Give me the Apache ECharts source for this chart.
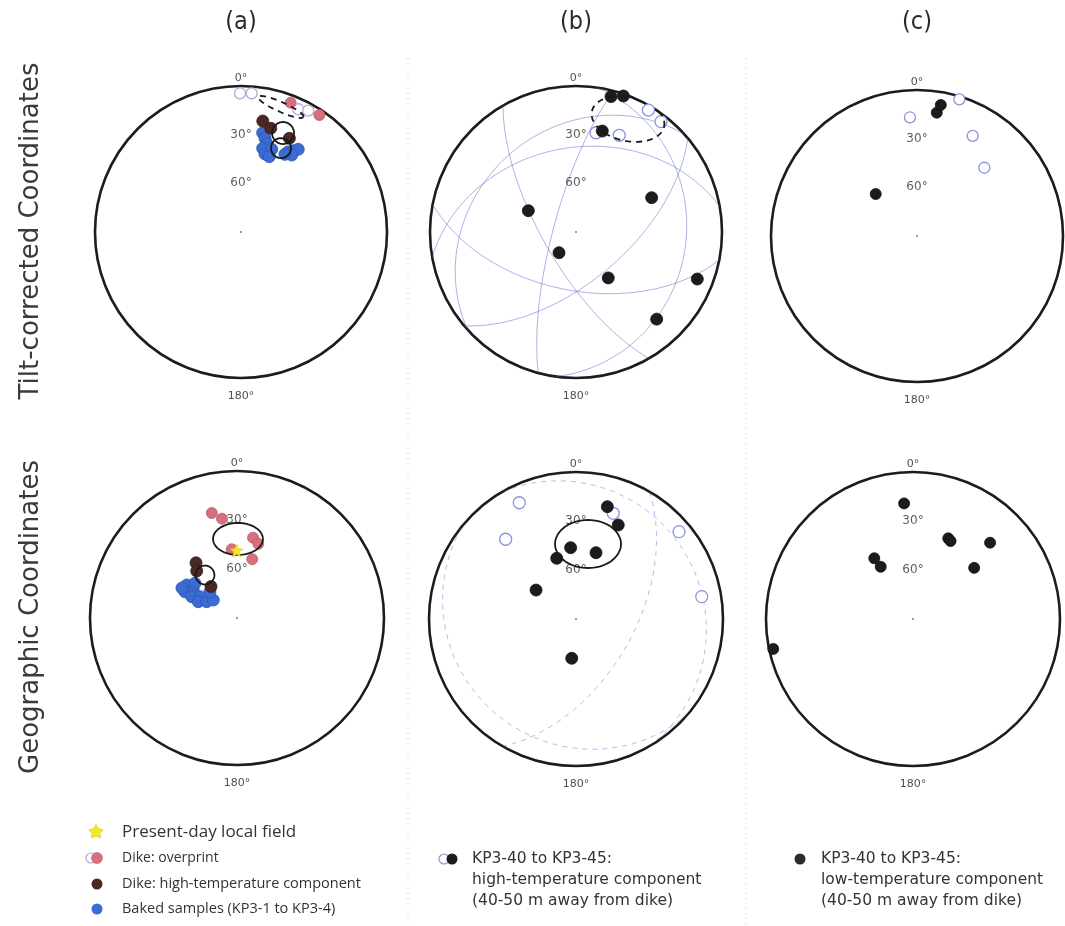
<!DOCTYPE html>
<html>
<head>
<meta charset="utf-8">
<script src="https://cdn.jsdelivr.net/npm/echarts@6/dist/echarts.min.js"></script>
<style>
  html, body { margin: 0; padding: 0; background: #ffffff; }
  #chart { width: 1065px; height: 926px; }
</style>
</head>
<body>
<div id="chart"></div>
<script>
// Paleomagnetic directions on equal-angle nets.
// Every direction is [declination, inclination] in degrees; a negative
// inclination points into the upper hemisphere and is drawn as an open symbol.

const columnTitles = ['(a)', '(b)', '(c)'];
const rowTitles = ['Tilt-corrected Coordinates', 'Geographic Coordinates'];
const inclinationTicks = [30, 60];
const declinationTicks = [0, 180];

// ---- (a) dike and baked contact, tilt-corrected ----
const aTiltOverprint = [[21.0, 4.6], [33.8, 3.2], [359.6, -4.5], [4.4, -4.3], [25.0, -6.5], [29.0, -4.5]];
const aTiltDikeHigh = [[11.1, 20.3], [16.0, 23.5], [27.3, 25.0]];
const aTiltBaked = [[12.3, 27.4], [14.4, 30.4], [16.2, 33.1], [14.5, 36.7], [17.1, 39.7], [20.4, 35.6],
  [20.6, 40.4], [30.5, 32.6], [32.8, 30.4], [34.7, 28.0], [33.4, 33.2], [29.5, 35.0]];
// confidence ellipses: [dec, inc, semi-axis 1, semi-axis 2 (degrees of the net), tilt]
const aTiltMeans = [[23.0, 23.7, 6.8, 6.8, 0], [25.5, 32.7, 6.2, 6.2, 0], [17.7, -9.1, 15.4, 3.0, 24]];

// ---- (a) geographic ----
const aGeoPresentField = [[359.7, 48.7]];
const aGeoOverprint = [[346.5, 23.9], [351.4, 28.5], [11.3, 39.9], [16.0, 42.7], [14.5, 52.8], [355.6, 47.8]];
const aGeoDikeHigh = [[323.4, 47.9], [319.4, 52.1], [320.5, 65.0]];
const aGeoBaked = [[303.3, 53.2], [296.8, 54.3], [302.6, 58.2], [295.2, 59.4], [299.9, 63.9], [292.8, 64.3],
  [298.3, 68.9], [307.2, 71.8], [309.6, 56.6], [298.6, 51.6], [313.9, 67.0]];
const aGeoMeans = [[0.7, 41.6, 15.3, 9.8, 0], [323.3, 57.2, 5.8, 5.8, 0]];

// ---- (b) KP3-40 to KP3-45, high-temperature component ----
const bTiltSites = [[14.5, 3.8], [19.2, 1.2], [14.6, 25.7], [294.1, 57.8], [65.6, 38.8], [219.4, 73.5],
  [144.9, 55.4], [111.2, 9.8], [137.2, 16.8], [11.4, -27.6], [24.1, -24.7], [30.7, -2.6], [37.6, -4.1]];
const bTiltMeans = [[24.7, -13.3, 22.8, 13.6, 12]];
// poles of remagnetization great circles: [dec, inc]
const bTiltCircles = [[105, 14], [11, 36], [170, 52], [278, 68], [138, 63], [60, 20], [320, 30]];

const bGeoSites = [[15.6, 18.6], [24.2, 26.9], [355.7, 46.2], [16.8, 47.6], [342.4, 51.0], [305.9, 59.8],
  [186.2, 65.8], [334.0, -10.8], [318.6, -24.9], [19.4, -21.4], [49.7, -7.3], [79.9, -11.8]];
const bGeoMeans = [[9.1, 43.5, 20.2, 14.7, 0]];
const bGeoCircles = [[240, 78], [40, 76], [300, 35]];

// ---- (c) KP3-40 to KP3-45, low-temperature component ----
const cTiltSites = [[9.1, 13.0], [10.3, 7.9], [315.5, 53.7], [356.6, -16.7], [17.2, -1.8], [29.1, -19.4], [44.6, -30.9]];
const cGeoSites = [[355.6, 19.0], [23.6, 36.1], [25.7, 37.0], [45.3, 23.6], [327.5, 45.9], [328.3, 52.4],
  [50.1, 41.2], [257.9, 2.5]];

// ---------------------------------------------------------------------------
const netCenters = [[241, 232], [576, 232], [917, 236], [237, 618], [576, 619], [913, 619]];
const netRadii = [146, 146, 146, 147, 147, 147];
const DEG = Math.PI / 180;

const STYLE = {
  overprint: { fill: '#d6707f', edge: '#b95a6a', open: '#b9a5dc' },
  dikeHigh: { fill: '#4a2824', edge: '#341b18', open: '#4a2824' },
  baked: { fill: '#3b6bd3', edge: '#2b56b2', open: '#3b6bd3' },
  site: { fill: '#1c1c1c', edge: '#111111', open: '#8b93dc' }
};

function toPolar(d) { return [90 - Math.abs(d[1]), d[0]]; }

function ellipsePoints(e) {
  const [dec, inc, a, b, tilt] = e;
  const rho0 = 90 - Math.abs(inc);
  const x0 = rho0 * Math.sin(dec * DEG), y0 = rho0 * Math.cos(dec * DEG);
  const r = tilt * DEG;
  const e1 = [Math.cos(r), -Math.sin(r)], e2 = [Math.sin(r), Math.cos(r)];
  const pts = [];
  for (let t = 0; t <= 360; t += 5) {
    const u = a * Math.cos(t * DEG), v = b * Math.sin(t * DEG);
    const x = x0 + u * e1[0] + v * e2[0], y = y0 + u * e1[1] + v * e2[1];
    pts.push([Math.hypot(x, y), (Math.atan2(x, y) / DEG + 360) % 360]);
  }
  return pts;
}

function greatCirclePoints(pole) {
  const pd = pole[0] * DEG, pi = pole[1] * DEG;
  const p = [Math.cos(pi) * Math.cos(pd), Math.cos(pi) * Math.sin(pd), Math.sin(pi)];
  const u = [-Math.sin(pd), Math.cos(pd), 0];
  let v = [p[1] * u[2] - p[2] * u[1], p[2] * u[0] - p[0] * u[2], p[0] * u[1] - p[1] * u[0]];
  if (v[2] < 0) v = v.map(c => -c);
  const pts = [];
  for (let t = 0; t <= 180; t += 2) {
    const c = [0, 1, 2].map(k => Math.cos(t * DEG) * u[k] + Math.sin(t * DEG) * v[k]);
    const inc = Math.asin(Math.max(-1, Math.min(1, c[2]))) / DEG;
    const dec = (Math.atan2(c[1], c[0]) / DEG + 360) % 360;
    pts.push([90 - inc, dec]);
  }
  return pts;
}

function starPoints(cx, cy, ro, ri) {
  const pts = [];
  for (let k = 0; k < 10; k++) {
    const a = (-90 + k * 36) * DEG, r = k % 2 ? ri : ro;
    pts.push([cx + r * Math.cos(a), cy + r * Math.sin(a)]);
  }
  return pts;
}

const series = [];

function addDirections(net, dirs, style, size) {
  const lower = dirs.filter(d => d[1] >= 0).map(toPolar);
  const upper = dirs.filter(d => d[1] < 0).map(toPolar);
  if (upper.length) series.push({
    type: 'scatter', coordinateSystem: 'polar', polarIndex: net, z: 4,
    symbol: 'circle', symbolSize: size, data: upper,
    itemStyle: { color: '#ffffff', borderColor: style.open, borderWidth: 1.3, opacity: 1 }
  });
  if (lower.length) series.push({
    type: 'scatter', coordinateSystem: 'polar', polarIndex: net, z: 5,
    symbol: 'circle', symbolSize: size, data: lower,
    itemStyle: { color: style.fill, borderColor: style.edge, borderWidth: 0.8, opacity: 1 }
  });
}

function addMeans(net, means) {
  means.forEach(m => series.push({
    type: 'line', coordinateSystem: 'polar', polarIndex: net, z: 6,
    showSymbol: false, symbol: 'none', silent: true, data: ellipsePoints(m),
    lineStyle: { color: '#1a1a1a', width: 1.8, type: m[1] < 0 ? [6, 5] : 'solid' }
  }));
}

function addCircles(net, poles, dash, alpha) {
  poles.forEach(p => series.push({
    type: 'line', coordinateSystem: 'polar', polarIndex: net, z: 2,
    showSymbol: false, symbol: 'none', silent: true, data: greatCirclePoints(p),
    lineStyle: { color: 'rgba(92,102,206,' + alpha + ')', width: 1, type: dash }
  }));
}

const starPath = 'path://M50,2 L63,36 L98,38 L70,60 L80,96 L50,76 L20,96 L30,60 L2,38 L37,36 Z';

// net furniture: centre mark and the declination / inclination labels
netCenters.forEach((c, i) => {
  series.push({
    type: 'scatter', coordinateSystem: 'polar', polarIndex: i, z: 3, silent: true,
    symbol: 'circle', symbolSize: 2, data: [[0, 0]], itemStyle: { color: '#6a74d0', opacity: 1 }
  });
  series.push({
    type: 'scatter', coordinateSystem: 'polar', polarIndex: i, z: 3, silent: true,
    symbolSize: 0,
    data: inclinationTicks.map(t => ({ value: [90 - t, 0], name: t + '°' })),
    label: { show: true, position: 'inside', formatter: p => p.name, color: '#333333',
      fontSize: 12, fontFamily: 'DejaVu Sans' }
  });
  series.push({
    type: 'scatter', coordinateSystem: 'polar', polarIndex: i, z: 3, silent: true,
    symbolSize: 0,
    data: declinationTicks.map(t => ({ value: [90, t], name: t + '°',
      label: { position: t === 0 ? 'top' : 'bottom', distance: t === 0 ? 2 : 13 } })),
    label: { show: true, formatter: p => p.name, color: '#222222', fontSize: 11, fontFamily: 'DejaVu Sans' }
  });
});

// (a) tilt-corrected
addMeans(0, aTiltMeans);
addDirections(0, aTiltBaked, STYLE.baked, 12);
addDirections(0, aTiltOverprint, STYLE.overprint, 11);
addDirections(0, aTiltDikeHigh, STYLE.dikeHigh, 12);
// (b) tilt-corrected
addCircles(1, bTiltCircles, 'solid', 0.5);
addMeans(1, bTiltMeans);
addDirections(1, bTiltSites, STYLE.site, 12);
// (c) tilt-corrected
addDirections(2, cTiltSites, STYLE.site, 11);
// (a) geographic
addMeans(3, aGeoMeans);
addDirections(3, aGeoBaked, STYLE.baked, 12);
addDirections(3, aGeoOverprint, STYLE.overprint, 11);
addDirections(3, aGeoDikeHigh, STYLE.dikeHigh, 12);
series.push({
  type: 'scatter', coordinateSystem: 'polar', polarIndex: 3, z: 8,
  symbol: starPath, symbolSize: 13, data: aGeoPresentField.map(toPolar),
  itemStyle: { color: '#f3e626', borderColor: '#d8c81a', borderWidth: 0.6, opacity: 1 }
});
// (b) geographic
addCircles(4, bGeoCircles, [5, 5], 0.45);
addMeans(4, bGeoMeans);
addDirections(4, bGeoSites, STYLE.site, 12);
// (c) geographic
addDirections(5, cGeoSites, STYLE.site, 11);

// ---------------------------------------------------------------------------
const graphics = [];
columnTitles.forEach((t, i) => graphics.push({
  type: 'text', x: netCenters[i][0], y: 22, style: { text: t, fill: '#2a2a2a',
    font: '25px "DejaVu Sans Condensed", "DejaVu Sans"', textAlign: 'center', textVerticalAlign: 'middle' }
}));
rowTitles.forEach((t, i) => graphics.push({
  type: 'text', x: 31, y: netCenters[i * 3][1] - 1, rotation: Math.PI / 2,
  style: { text: t, fill: '#3a3a3a', font: '26px "DejaVu Sans"', textAlign: 'center', textVerticalAlign: 'middle' }
}));
// dotted column separators
[408, 746].forEach(x => graphics.push({
  type: 'line', shape: { x1: x, y1: 58, x2: x, y2: 924 },
  style: { stroke: '#c6cad8', lineWidth: 1, lineDash: [1, 4] }
}));

// legend for (a)
const legendA = [
  { text: 'Present-day local field', y: 832, size: 17 },
  { text: 'Dike: overprint', y: 858, size: 14 },
  { text: 'Dike: high-temperature component', y: 884, size: 14.5 },
  { text: 'Baked samples (KP3-1 to KP3-4)', y: 909, size: 14.5 }
];
legendA.forEach(row => graphics.push({
  type: 'text', x: 122, y: row.y, style: { text: row.text, fill: '#333333',
    font: row.size + 'px "Open Sans"', textVerticalAlign: 'middle' }
}));
graphics.push({
  type: 'polygon', shape: { points: starPoints(96, 832, 7.5, 4.2) },
  style: { fill: '#f3e626', stroke: '#d8c81a', lineWidth: 0.6 }
});
graphics.push({ type: 'circle', shape: { cx: 91, cy: 858, r: 5 }, style: { fill: '#ffffff', stroke: STYLE.overprint.open, lineWidth: 1.2 } });
graphics.push({ type: 'circle', shape: { cx: 97, cy: 858, r: 5.5 }, style: { fill: STYLE.overprint.fill, stroke: STYLE.overprint.edge, lineWidth: 0.6 } });
graphics.push({ type: 'circle', shape: { cx: 97, cy: 884, r: 5.5 }, style: { fill: STYLE.dikeHigh.fill } });
graphics.push({ type: 'circle', shape: { cx: 97, cy: 909, r: 5.5 }, style: { fill: STYLE.baked.fill } });

// legends for (b) and (c)
const legendB = ['KP3-40 to KP3-45:', 'high-temperature component', '(40-50 m away from dike)'];
const legendC = ['KP3-40 to KP3-45:', 'low-temperature component', '(40-50 m away from dike)'];
legendB.forEach((t, k) => graphics.push({
  type: 'text', x: 472, y: 859 + k * 21, style: { text: t, fill: '#333333', font: '15.5px "DejaVu Sans"', textVerticalAlign: 'middle' }
}));
legendC.forEach((t, k) => graphics.push({
  type: 'text', x: 821, y: 859 + k * 21, style: { text: t, fill: '#333333', font: '15.5px "DejaVu Sans"', textVerticalAlign: 'middle' }
}));
graphics.push({ type: 'circle', shape: { cx: 444, cy: 859, r: 5 }, style: { fill: '#ffffff', stroke: STYLE.site.open, lineWidth: 1.2 } });
graphics.push({ type: 'circle', shape: { cx: 452, cy: 859, r: 5.5 }, style: { fill: STYLE.site.fill } });
graphics.push({ type: 'circle', shape: { cx: 800, cy: 859, r: 5.5 }, style: { fill: '#2a2a2a' } });

const option = {
  animation: false,
  backgroundColor: '#ffffff',
  polar: netCenters.map((c, i) => ({ center: c, radius: [0, netRadii[i]] })),
  angleAxis: netCenters.map((c, i) => ({
    polarIndex: i, type: 'value', min: 0, max: 360, interval: 90, startAngle: 90, clockwise: true,
    axisLine: { show: true, lineStyle: { color: '#1c1c1c', width: 2.6 } },
    axisTick: { show: false }, axisLabel: { show: false }, splitLine: { show: false }
  })),
  radiusAxis: netCenters.map((c, i) => ({
    polarIndex: i, type: 'value', min: 0, max: 90,
    axisLine: { show: false }, axisTick: { show: false }, axisLabel: { show: false }, splitLine: { show: false }
  })),
  series: series,
  graphic: graphics
};

const chart = echarts.init(document.getElementById('chart'), null, { renderer: 'canvas' });
chart.setOption(option);
</script>
</body>
</html>
